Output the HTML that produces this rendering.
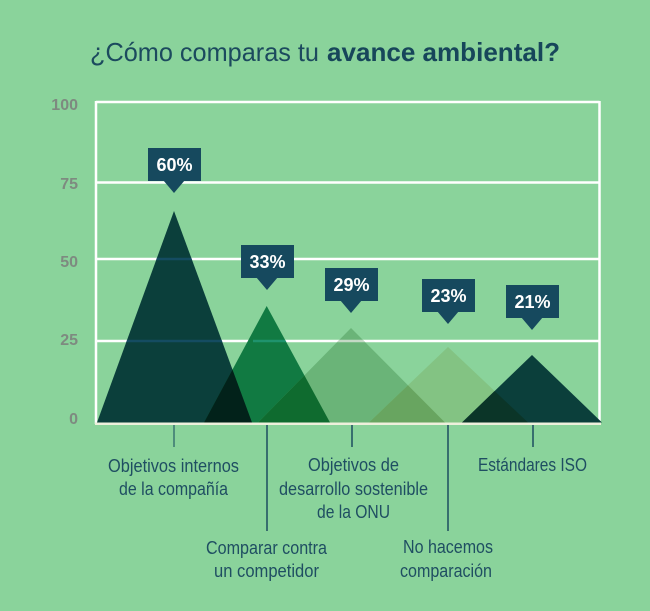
<!DOCTYPE html>
<html>
<head>
<meta charset="utf-8">
<style>
  html,body{margin:0;padding:0;background:#8ad39b;}
  body{width:650px;height:611px;overflow:hidden;}
  svg{display:block;}
  .lbl{font-family:"Liberation Sans",sans-serif;font-size:18px;fill:#1f4e62;text-anchor:middle;}
  .ax{font-family:"Liberation Sans",sans-serif;font-size:16px;font-weight:bold;fill:#7e8a80;text-anchor:end;}
  .pct{font-family:"Liberation Sans",sans-serif;font-size:18px;font-weight:bold;fill:#ffffff;text-anchor:middle;}
</style>
</head>
<body>
<svg width="650" height="611" viewBox="0 0 650 611" xmlns="http://www.w3.org/2000/svg">
  <defs>
    <clipPath id="c1"><polygon points="97,422.5 174,211 252,422.5"/></clipPath>
    <clipPath id="c2"><polygon points="204,422.5 266.7,306 330,422.5"/></clipPath>
    <clipPath id="c3"><polygon points="258,422.5 351,328 445,422.5"/></clipPath>
    <clipPath id="c4"><polygon points="369,422.5 448,347 528,422.5"/></clipPath>
    <clipPath id="c5"><polygon points="462,422.5 532,355 602,422.5"/></clipPath>
  </defs>
  <rect x="0" y="0" width="650" height="611" fill="#8ad39b"/>

  <!-- Title -->
  <text x="90" y="61" font-family="Liberation Sans, sans-serif" font-size="26" fill="#1c4a5e" textLength="229" lengthAdjust="spacingAndGlyphs">¿Cómo comparas tu</text>
  <text x="327" y="61" font-family="Liberation Sans, sans-serif" font-size="26" font-weight="bold" fill="#17465a" textLength="233" lengthAdjust="spacingAndGlyphs">avance ambiental?</text>

  <!-- Y axis labels -->
  <text class="ax" x="78" y="110">100</text>
  <text class="ax" x="78" y="189">75</text>
  <text class="ax" x="78" y="267">50</text>
  <text class="ax" x="78" y="345">25</text>
  <text class="ax" x="78" y="424">0</text>

  <!-- Frame & gridlines -->
  <g stroke="#ffffff" stroke-width="2.5" fill="none">
    <line x1="96" y1="102" x2="599.5" y2="102"/>
    <line x1="96" y1="101" x2="96" y2="424"/>
    <line x1="599.5" y1="101" x2="599.5" y2="424"/>
    <line x1="96" y1="182.5" x2="599.5" y2="182.5"/>
    <line x1="96" y1="259" x2="599.5" y2="259"/>
    <line x1="96" y1="341" x2="599.5" y2="341"/>
  </g>
  <line x1="95" y1="423.7" x2="601" y2="423.7" stroke="#eef0dc" stroke-width="2.6"/>

  <!-- Triangles -->
  <polygon points="97,422.5 174,211 252,422.5" fill="#0b3f3b"/>
  <polygon points="204,422.5 266.7,306 330,422.5" fill="#117a42"/>
  <polygon points="258,422.5 351,328 445,422.5" fill="#6ab478"/>
  <polygon points="369,422.5 448,347 528,422.5" fill="#83c383"/>
  <polygon points="462,422.5 532,355 602,422.5" fill="#0b3f3b"/>

  <!-- Overlaps -->
  <g clip-path="url(#c1)"><polygon points="204,422.5 266.7,306 330,422.5" fill="#02221a"/></g>
  <g clip-path="url(#c2)"><polygon points="258,422.5 351,328 445,422.5" fill="#0f6b2f"/></g>
  <g clip-path="url(#c3)"><polygon points="369,422.5 448,347 528,422.5" fill="#68a560"/></g>
  <g clip-path="url(#c4)"><polygon points="462,422.5 532,355 602,422.5" fill="#0b3528"/></g>

  <!-- Gridlines showing through triangles -->
  <g clip-path="url(#c1)" stroke-width="2.5">
    <line x1="96" y1="259" x2="600" y2="259" stroke="#144c61"/>
    <line x1="96" y1="341" x2="600" y2="341" stroke="#144c61"/>
  </g>
  <g clip-path="url(#c2)" stroke-width="2.5">
    <line x1="253" y1="341" x2="600" y2="341" stroke="#1f936d"/>
  </g>
  <g clip-path="url(#c3)" stroke-width="2.5">
    <line x1="300" y1="341" x2="600" y2="341" stroke="#c4d9c5"/>
  </g>

  <!-- Value callouts -->
  <g fill="#16495e">
    <rect x="148" y="148" width="53" height="33"/>
    <polygon points="163,180 185,180 174,193"/>
    <rect x="241" y="245" width="53" height="33"/>
    <polygon points="256,277 278,277 267,290"/>
    <rect x="325" y="268" width="53" height="33"/>
    <polygon points="340,300 362,300 351,313"/>
    <rect x="422" y="279" width="53" height="33"/>
    <polygon points="437,311 459,311 448,324"/>
    <rect x="506" y="285" width="53" height="33"/>
    <polygon points="521,317 543,317 532,330"/>
  </g>
  <text class="pct" x="174.5" y="171">60%</text>
  <text class="pct" x="267.5" y="268">33%</text>
  <text class="pct" x="351.5" y="291">29%</text>
  <text class="pct" x="448.5" y="302">23%</text>
  <text class="pct" x="532.5" y="308">21%</text>

  <!-- Ticks -->
  <g stroke="#1d4c5f" stroke-width="1.5">
    <line x1="174" y1="425" x2="174" y2="447" stroke="#3a7470"/>
    <line x1="267" y1="425" x2="267" y2="531"/>
    <line x1="352" y1="425" x2="352" y2="447"/>
    <line x1="448" y1="425" x2="448" y2="531"/>
    <line x1="533" y1="425" x2="533" y2="447"/>
  </g>

  <!-- Category labels -->
  <text class="lbl" x="173.5" y="472" textLength="131" lengthAdjust="spacingAndGlyphs">Objetivos internos</text>
  <text class="lbl" x="173.5" y="495" textLength="109" lengthAdjust="spacingAndGlyphs">de la compañía</text>

  <text class="lbl" x="266.5" y="554" textLength="121" lengthAdjust="spacingAndGlyphs">Comparar contra</text>
  <text class="lbl" x="266.5" y="577" textLength="105" lengthAdjust="spacingAndGlyphs">un competidor</text>

  <text class="lbl" x="353.5" y="471" textLength="91" lengthAdjust="spacingAndGlyphs">Objetivos de</text>
  <text class="lbl" x="353.5" y="495" textLength="149" lengthAdjust="spacingAndGlyphs">desarrollo sostenible</text>
  <text class="lbl" x="353.5" y="518" textLength="73" lengthAdjust="spacingAndGlyphs">de la ONU</text>

  <text class="lbl" x="448" y="553" textLength="90" lengthAdjust="spacingAndGlyphs">No hacemos</text>
  <text class="lbl" x="446" y="577" textLength="92" lengthAdjust="spacingAndGlyphs">comparación</text>

  <text class="lbl" x="532.5" y="471" textLength="109" lengthAdjust="spacingAndGlyphs">Estándares ISO</text>
</svg>
</body>
</html>
